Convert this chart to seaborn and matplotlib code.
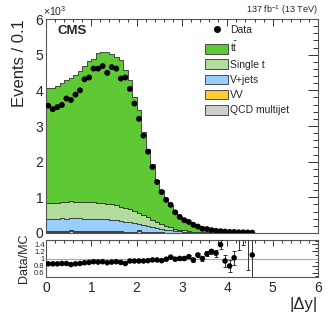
import numpy as np
import pandas as pd
import matplotlib
matplotlib.use("Agg")
import matplotlib.pyplot as plt
from matplotlib.patches import Patch
from matplotlib.lines import Line2D
import seaborn as sns

sns.set_style("white")
plt.rcParams['font.family'] = ['Liberation Sans', 'DejaVu Sans']
plt.rcParams['mathtext.fontset'] = 'custom'
plt.rcParams['mathtext.rm'] = 'Liberation Sans'
plt.rcParams['mathtext.it'] = 'Liberation Sans:italic'
plt.rcParams['mathtext.bf'] = 'Liberation Sans:bold'

# ---------------- data (values in units of 10^3 events) ----------------
bin_edges = [round(0.1 * i, 2) for i in range(47)]  # 46 bins of width 0.1
bin_centers = np.round(np.array(bin_edges[:-1]) + 0.05, 3)

data_vals = [3.57, 3.47, 3.53, 3.59, 3.77, 3.73, 3.88, 4.00, 4.31, 4.36,
             4.61, 4.61, 4.68, 4.49, 4.65, 4.61, 4.33, 4.36, 4.04, 3.63,
             3.20, 2.73, 2.28, 1.85, 1.43, 1.15, 0.93, 0.79, 0.58, 0.45,
             0.36, 0.31, 0.23, 0.18, 0.12, 0.11, 0.08, 0.06, 0.05, 0.04,
             0.03, 0.03, 0.02, 0.02, 0.015, 0.01]

ttbar = [3.23, 3.23, 3.28, 3.33, 3.41, 3.46, 3.56, 3.66, 3.81, 3.94,
         4.02, 4.20, 4.23, 4.25, 4.22, 4.16, 4.10, 3.86, 3.64, 3.19,
         2.87, 2.33, 1.92, 1.55, 1.17, 0.95, 0.77, 0.62, 0.475, 0.365,
         0.285, 0.24, 0.175, 0.145, 0.103, 0.08, 0.06, 0.043, 0.036, 0.028,
         0.023, 0.018, 0.014, 0.0105, 0.008, 0.0065]

single_t = [0.44, 0.45, 0.45, 0.46, 0.47, 0.46, 0.47, 0.46, 0.47, 0.47,
            0.46, 0.46, 0.45, 0.44, 0.43, 0.42, 0.40, 0.38, 0.36, 0.35,
            0.32, 0.29, 0.25, 0.21, 0.17, 0.13, 0.10, 0.08, 0.06, 0.045,
            0.035, 0.028, 0.02, 0.016, 0.012, 0.009, 0.007, 0.006, 0.004, 0.003,
            0.002, 0.0015, 0.001, 0.001, 0.001, 0.0005]

vjets = [0.34, 0.33, 0.34, 0.35, 0.345, 0.34, 0.35, 0.35, 0.345, 0.34,
         0.34, 0.335, 0.342, 0.328, 0.324, 0.305, 0.296, 0.282, 0.263, 0.238,
         0.178, 0.194, 0.171, 0.141, 0.118, 0.100, 0.084, 0.066, 0.052, 0.039,
         0.031, 0.024, 0.018, 0.014, 0.011, 0.008, 0.006, 0.005, 0.004, 0.003,
         0.002, 0.002, 0.0015, 0.001, 0.001, 0.001]

vv = [0.02, 0.02, 0.02, 0.02, 0.02, 0.02, 0.02, 0.02, 0.02, 0.02,
      0.02, 0.02, 0.019, 0.018, 0.018, 0.017, 0.016, 0.015, 0.014, 0.013,
      0.012, 0.011, 0.01, 0.009, 0.008, 0.007, 0.006, 0.005, 0.004, 0.003,
      0.003, 0.002, 0.002, 0.0015, 0.001, 0.001, 0.001, 0, 0, 0,
      0, 0, 0, 0, 0, 0]

qcd = [0.04, 0.04, 0.04, 0.04, 0.035, 0.07, 0.04, 0.04, 0.035, 0.04,
       0.04, 0.035, 0.03, 0.035, 0.03, 0.03, 0.03, 0.025, 0.025, 0.02,
       0.06, 0.02, 0.015, 0.015, 0.01, 0.01, 0.008, 0.006, 0.005, 0.004,
       0.003, 0.002, 0.002, 0.001, 0.001, 0.001, 0, 0, 0, 0,
       0, 0, 0, 0, 0, 0]

ratio_vals = [0.85, 0.85, 0.85, 0.86, 0.86, 0.83, 0.85, 0.86, 0.88, 0.89,
              0.91, 0.90, 0.91, 0.88, 0.90, 0.91, 0.89, 0.86, 0.93, 0.93,
              0.93, 0.93, 0.94, 0.96, 0.96, 0.94, 0.98, 1.04, 0.98, 1.00,
              1.00, 1.05, 0.96, 1.10, 1.00, 1.13, 1.20, 1.15, 1.39, 0.93,
              0.79, 1.02, 1.70, 1.80, 1.90, 1.10]
ratio_err = [0.01] * 25 + [0.02, 0.02, 0.025, 0.03, 0.03,
                           0.035, 0.04, 0.045, 0.05, 0.06,
                           0.07, 0.08, 0.10, 0.12, 0.165,
                           0.17, 0.2, 0.46, 0.42, 1.22, 0.7]

process_names = [r"$\mathrm{t\bar{t}}$", "Single t", "V+jets", "VV", "QCD multijet"]
process_colors = ["#5ec934", "#b2dc9c", "#99ccff", "#ffcc33", "#cccccc"]
process_values = [ttbar, single_t, vjets, vv, qcd]

# ---------------- figure ----------------
W, H = 332, 316
fig = plt.figure(figsize=(W / 100, H / 100), dpi=100)
ax = fig.add_axes([46 / W, 1 - 233 / H, (318 - 46) / W, (233 - 19) / H])
rax = fig.add_axes([46 / W, 1 - 277 / H, (318 - 46) / W, (277 - 240) / H])

rows = []
for name, vals in zip(process_names, process_values):
    for c, v in zip(bin_centers, vals):
        rows.append({"x": float(c), "w": float(v), "process": name})
mc = pd.DataFrame(rows)

sns.histplot(data=mc, x="x", weights="w", hue="process", hue_order=process_names,
             palette=dict(zip(process_names, process_colors)), multiple="stack",
             bins=bin_edges, element="step", fill=True, alpha=1.0,
             edgecolor="#333333", linewidth=0.6, legend=False, ax=ax)

dat = pd.DataFrame({"x": bin_centers, "y": data_vals})
sns.scatterplot(data=dat, x="x", y="y", color="black", s=18, edgecolor="none",
                ax=ax, zorder=5, legend=False)

ax.set_xlim(0, 6)
ax.set_ylim(0, 6)
ax.set_xlabel("")
ax.set_ylabel("Events / 0.1", fontsize=12, loc="top", labelpad=6)
ax.set_xticks(np.arange(0, 6.1, 1))
ax.set_xticklabels([])
ax.set_xticks(np.arange(0, 6.01, 0.2), minor=True)
ax.set_yticks(np.arange(0, 6.1, 1))
ax.set_yticklabels([str(i) for i in range(7)], fontsize=10)
ax.set_yticks(np.arange(0, 6.01, 0.2), minor=True)
ax.tick_params(which="both", direction="in", top=True, right=True, color="#333333")
ax.tick_params(which="major", axis="y", length=7, width=0.7)
ax.tick_params(which="minor", axis="y", length=3.5, width=0.7)
ax.tick_params(which="major", axis="x", length=5, width=0.7)
ax.tick_params(which="minor", axis="x", length=2.5, width=0.7)
ax.tick_params(axis="y", pad=2)

ax.text(0.043, 0.97, "CMS", transform=ax.transAxes, fontsize=9.5, fontweight="bold",
        ha="left", va="top")
ax.text(1.0, 1.01, r"137 fb$^{-1}$ (13 TeV)", transform=ax.transAxes, fontsize=6.5,
        ha="right", va="bottom")
ax.text(-0.01, 1.005, r"$\times$10$^{3}$", transform=ax.transAxes, fontsize=7.5,
        ha="left", va="bottom")

handles = [Line2D([0], [0], marker="o", color="black", linestyle="none", markersize=4)]
handles += [Patch(facecolor=c, edgecolor="#333333", linewidth=0.6) for c in process_colors]
labels = ["Data"] + process_names
ax.legend(handles, labels, loc="upper left", bbox_to_anchor=(0.585, 0.972), frameon=False,
          fontsize=7.5, handlelength=2.2, handleheight=1.05, handletextpad=0.2,
          labelspacing=0.47, borderaxespad=0, borderpad=0)

for sp in ax.spines.values():
    sp.set_color("#555555")
    sp.set_linewidth(0.8)

# ---------------- ratio panel ----------------
rax.axhline(1.0, color="#aaaaaa", linewidth=0.8, zorder=1)
rax.errorbar(bin_centers, ratio_vals, yerr=ratio_err, fmt="none", ecolor="#333333",
             elinewidth=0.7, capsize=1.5, capthick=0.7, zorder=3)
rat = pd.DataFrame({"x": bin_centers, "r": ratio_vals})
sns.scatterplot(data=rat, x="x", y="r", color="black", s=16, edgecolor="none",
                ax=rax, zorder=4, legend=False)
rax.set_xlim(0, 6)
rax.set_ylim(0.48, 1.52)
rax.set_xticks(np.arange(0, 6.1, 1))
rax.set_xticklabels([str(i) for i in range(7)], fontsize=10)
rax.set_xticks(np.arange(0, 6.01, 0.2), minor=True)
rax.set_yticks([0.6, 0.8, 1.0, 1.2, 1.4])
rax.set_yticklabels(["0.6", "0.8", "1", "1.2", "1.4"], fontsize=5.5)
rax.set_yticks(np.arange(0.5, 1.51, 0.1), minor=True)
rax.tick_params(which="both", direction="in", top=True, right=True, color="#333333")
rax.tick_params(which="major", length=4, width=0.7)
rax.tick_params(which="minor", length=2, width=0.7)
rax.tick_params(axis="y", pad=1)
rax.tick_params(axis="x", pad=3)
rax.set_ylabel("Data/MC", fontsize=9, labelpad=3)
rax.set_xlabel("|Δy|", fontsize=12, loc="right", labelpad=1)
for sp in rax.spines.values():
    sp.set_color("#555555")
    sp.set_linewidth(0.8)

fig.savefig("out.png", dpi=100)
